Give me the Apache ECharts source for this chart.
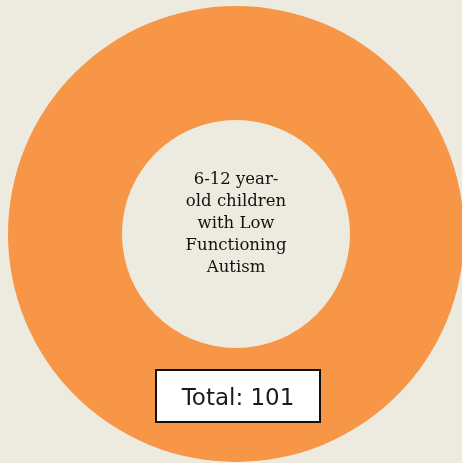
<!DOCTYPE html>
<html>
<head>
<meta charset="utf-8">
<style>
html,body{margin:0;padding:0;background:#EDEBE0;}
#chart{width:462px;height:463px;}
</style>
<script src="https://cdn.jsdelivr.net/npm/echarts@6/dist/echarts.min.js"></script>
</head>
<body>
<div id="chart"></div>
<script>
const categories = ["6-12 year-\nold children\nwith Low\nFunctioning\nAutism"];
const values = [101];
const totalLabel = "Total: " + values.reduce((a, b) => a + b, 0);

const chart = echarts.init(document.getElementById('chart'), null, {renderer: 'canvas'});
chart.setOption({
  backgroundColor: '#EDEBE0',
  animation: false,
  series: [{
    type: 'pie',
    center: [236, 234],
    radius: [114, 228],
    silent: true,
    startAngle: 90,
    itemStyle: {color: '#F79646'},
    label: {
      show: true,
      position: 'center',
      formatter: '{b}',
      fontFamily: 'DejaVu Serif',
      fontSize: 16.5,
      lineHeight: 22,
      color: '#111111',
      offset: [0, -10]
    },
    labelLine: {show: false},
    emphasis: {disabled: true},
    data: categories.map((c, i) => ({name: c, value: values[i]}))
  }],
  graphic: [{
    type: 'group',
    left: 155,
    top: 369,
    z: 100,
    children: [{
      type: 'rect',
      z: 100,
      shape: {x: 0, y: 0, width: 164, height: 52},
      style: {fill: '#ffffff', stroke: '#111111', lineWidth: 2}
    }, {
      type: 'text',
      z: 101,
      x: 82,
      y: 29,
      style: {
        text: totalLabel,
        fontFamily: 'DejaVu Sans',
        fontSize: 23,
        fill: '#1a1a1a',
        align: 'center',
        verticalAlign: 'middle'
      }
    }]
  }]
});
</script>
</body>
</html>
